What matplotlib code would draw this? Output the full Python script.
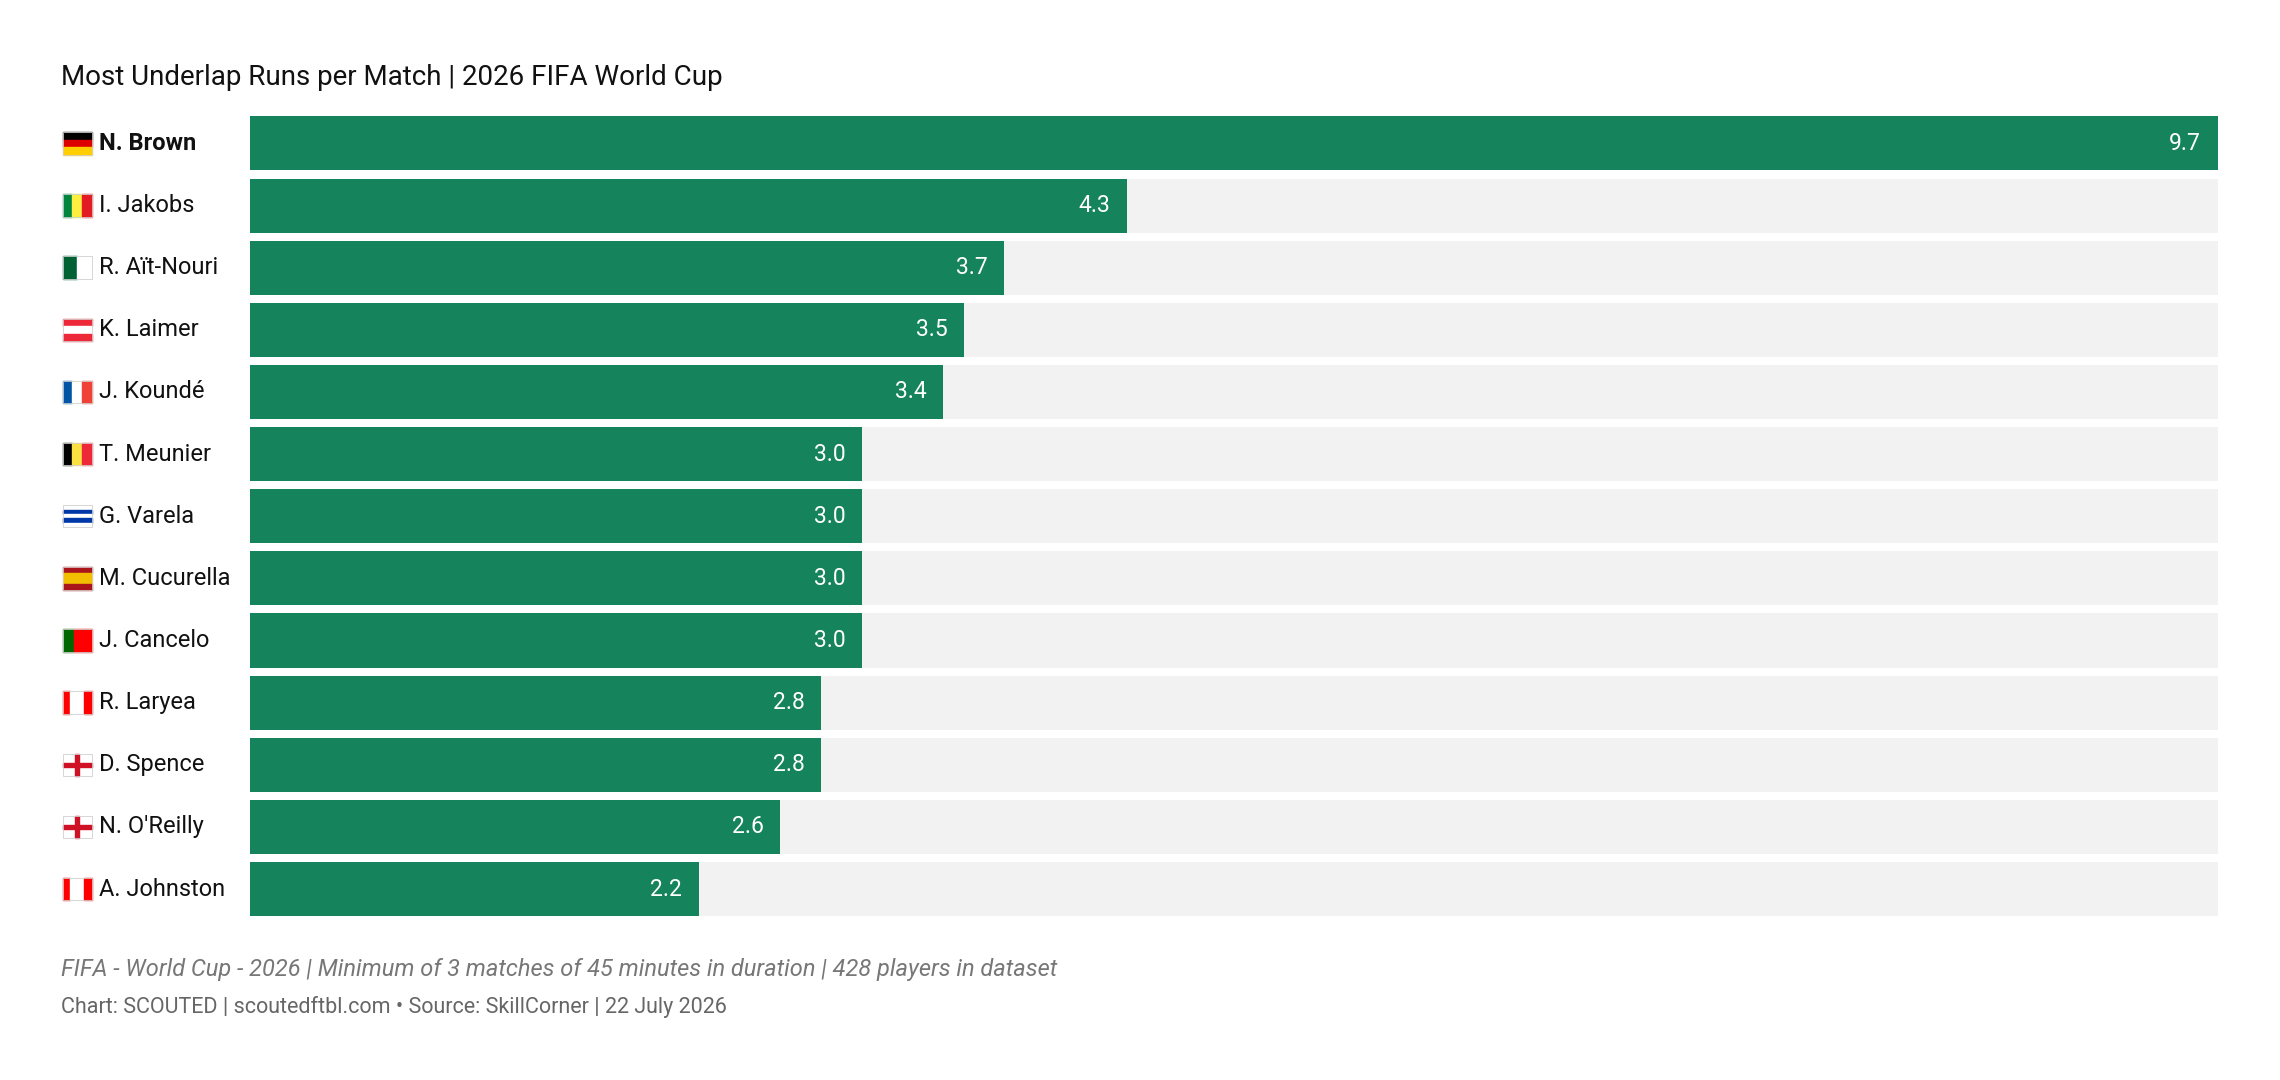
import matplotlib.pyplot as plt
from matplotlib.patches import Rectangle

plt.rcParams['font.family'] = ['Roboto', 'DejaVu Sans']

players = ["N. Brown", "I. Jakobs", "R. Aït-Nouri", "K. Laimer", "J. Koundé", "T. Meunier",
           "G. Varela", "M. Cucurella", "J. Cancelo", "R. Laryea", "D. Spence", "N. O'Reilly",
           "A. Johnston"]
values = [9.7, 4.3, 3.7, 3.5, 3.4, 3.0, 3.0, 3.0, 3.0, 2.8, 2.8, 2.6, 2.2]
countries = ["GER", "SEN", "ALG", "AUT", "FRA", "BEL", "URU", "ESP", "POR", "CAN", "ENG", "ENG", "CAN"]
x_max = 9.65

# flag stripes: (orientation, [(weight, colour), ...])
flags = {
    "GER": ("h", [(1, "#000000"), (1, "#dd0000"), (1, "#ffce00")]),
    "SEN": ("v", [(1, "#00853f"), (1, "#fdef42"), (1, "#e31b23")]),
    "ALG": ("v", [(1, "#006233"), (1, "#ffffff")]),
    "AUT": ("h", [(1, "#ed2939"), (1, "#ffffff"), (1, "#ed2939")]),
    "FRA": ("v", [(1, "#0055a4"), (1, "#ffffff"), (1, "#ef4135")]),
    "BEL": ("v", [(1, "#000000"), (1, "#fae042"), (1, "#ed2939")]),
    "URU": ("h", [(1, "#ffffff"), (1, "#0038a8"), (1, "#ffffff"), (1, "#0038a8"), (1, "#ffffff")]),
    "ESP": ("h", [(1, "#aa151b"), (2, "#f1bf00"), (1, "#aa151b")]),
    "POR": ("v", [(2, "#006600"), (3, "#ff0000")]),
    "CAN": ("v", [(1, "#ff0000"), (2, "#ffffff"), (1, "#ff0000")]),
    "ENG": ("cross", []),
}

green = "#15835b"
fig = plt.figure(figsize=(22.8, 10.8), dpi=100)
ax = fig.add_axes([0.1097, 0.148, 0.8629, 0.748])
n = len(players)
ys = list(range(n))
ax.barh(ys, [x_max] * n, height=0.87, color="#f2f2f2")
ax.barh(ys, values, height=0.87, color=green)
for y, v in zip(ys, values):
    ax.text(min(v, x_max) - 0.08, y, f"{v:.1f}", ha="right", va="center", color="white", fontsize=16.5)
ax.set_xlim(0, x_max)
ax.set_ylim(n - 0.5, -0.5)
ax.axis("off")

trans = ax.get_yaxis_transform()
for y, (name, c) in enumerate(zip(players, countries)):
    ax.text(-0.0769, y, name, transform=trans, ha="left", va="center",
            fontsize=17, color="#111111", fontweight="bold" if y == 0 else "normal")
    # flag
    fx0, fw, fh = -0.0953, 0.0148, 0.36
    kind, stripes = flags[c]
    if kind == "cross":
        ax.add_patch(Rectangle((fx0, y - fh / 2), fw, fh, transform=trans, color="white", clip_on=False))
        ax.add_patch(Rectangle((fx0, y - fh * 0.1), fw, fh * 0.2, transform=trans,
                               color="#ce1124", clip_on=False))
        ax.add_patch(Rectangle((fx0 + fw * 0.43, y - fh / 2), fw * 0.14, fh, transform=trans,
                               color="#ce1124", clip_on=False))
    else:
        tot = sum(w for w, _ in stripes)
        acc = 0
        for w, col in stripes:
            if kind == "h":
                r = Rectangle((fx0, y - fh / 2 + fh * acc / tot), fw, fh * w / tot, transform=trans,
                              color=col, clip_on=False)
            else:
                r = Rectangle((fx0 + fw * acc / tot, y - fh / 2), fw * w / tot, fh, transform=trans,
                              color=col, clip_on=False)
            ax.add_patch(r)
            acc += w
    ax.add_patch(Rectangle((fx0, y - fh / 2), fw, fh, transform=trans, fc="none",
                           ec="#d0d0d0", lw=0.6, clip_on=False, zorder=5))

fig.text(0.0268, 0.928, "Most Underlap Runs per Match | 2026 FIFA World Cup", fontsize=20,
         color="#111111", va="center")
fig.text(0.0268, 0.102, "FIFA - World Cup - 2026 | Minimum of 3 matches of 45 minutes in duration | 428 players in dataset",
         fontsize=17, style="italic", color="#777777", va="center")
fig.text(0.0268, 0.068, "Chart: SCOUTED | scoutedftbl.com • Source: SkillCorner | 22 July 2026",
         fontsize=15.5, color="#666666", va="center")
fig.savefig("out.png", dpi=100, facecolor="white")
